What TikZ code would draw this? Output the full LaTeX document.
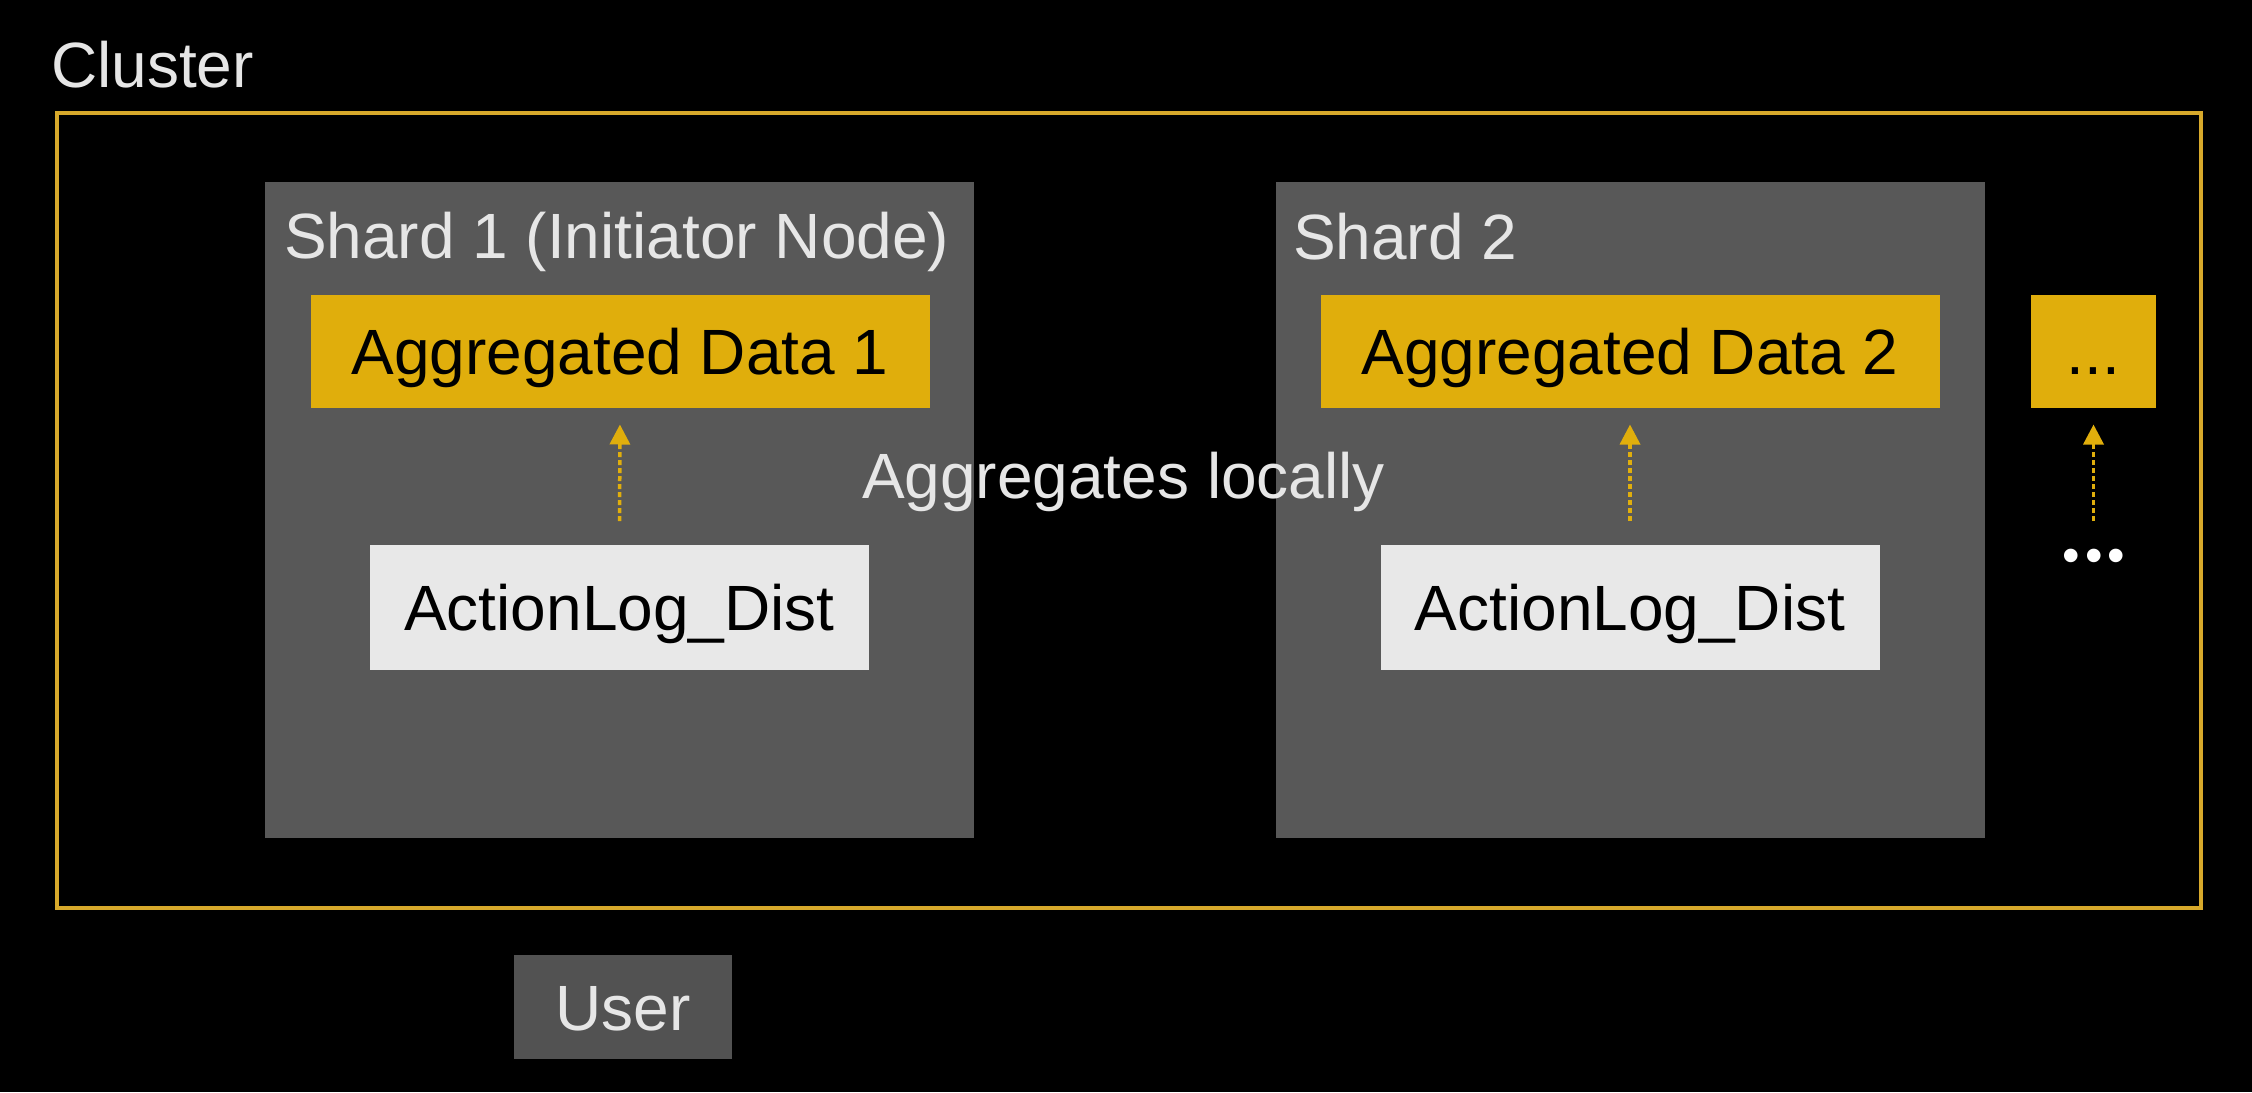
\documentclass[tikz,border=0pt]{standalone}
\usepackage{fontspec}
\setmainfont{Liberation Sans}
\usetikzlibrary{arrows.meta}
\definecolor{gold}{HTML}{E0AE0C}
\definecolor{goldline}{HTML}{D7A92B}
\definecolor{sharde}{HTML}{585858}
\definecolor{userbg}{HTML}{525252}
\definecolor{lightbox}{HTML}{E8E8E8}
\definecolor{lighttxt}{HTML}{E6E6E6}
\tikzset{
  px/.style={x=0.5pt,y=-0.5pt},
  bigfont/.style={font=\fontsize{32pt}{38pt}\selectfont},
  plainbox/.style={inner sep=0pt, outer sep=0pt, text height=23pt, text depth=0pt, bigfont, align=center},
  goldbox/.style={plainbox, fill=gold, text=black, minimum height=56.5pt},
  logbox/.style={plainbox, fill=lightbox, text=black, minimum width=249.5pt, minimum height=62.5pt},
  shardbox/.style={inner sep=0pt, outer sep=0pt, fill=sharde, minimum width=354.5pt, minimum height=328pt},
  lbl/.style={inner sep=0pt, outer sep=0pt, text=lighttxt, bigfont},
  flow/.style={draw=gold, line width=1.75pt, dash pattern=on 2.5pt off 1.5pt, -{Triangle[length=10pt,width=10pt]}, shorten >=8.5pt}
}
\begin{document}
\begin{tikzpicture}[px]
\useasboundingbox (0,0) rectangle (2252,1092);
\fill[black] (0,0) rectangle (2252,1092);

\node[lbl, anchor=base west] (clusterlbl) at (51,87) {Cluster};
\node[draw=goldline, line width=2pt, inner sep=0pt, outer sep=0pt, minimum width=1072pt, minimum height=397.5pt] (cluster) at (1129,510.5) {};

\node[shardbox] (shard1) at (619.5,510) {};
\node[shardbox] (shard2) at (1630.5,510) {};

\node[lbl, anchor=base west] (s1lbl) at (284,258) {Shard 1 (Initiator Node)};
\node[lbl, anchor=base west] (s2lbl) at (1293,259) {Shard 2};

\node[goldbox, minimum width=309.5pt] (ad1) at (620,351) {Aggregated Data 1};
\node[goldbox, minimum width=309.5pt] (ad2) at (1630,351) {Aggregated Data 2};
\node[goldbox, minimum width=62.5pt] (adn) at (2093.5,351) {...};

\node[logbox] (al1) at (619.5,607.5) {ActionLog\_Dist};
\node[logbox] (al2) at (1630,607.5) {ActionLog\_Dist};

\coordinate (c3) at (2093.5,521);
\node[lbl, anchor=base, text=white, font=\fontsize{25pt}{30pt}\selectfont] (moredots) at (2094,572) {•\kern2.6pt•\kern2.6pt•};

\draw[flow, shorten <=12pt] (al1.north) -- (ad1.south);
\draw[flow, shorten <=12pt] (al2.north) -- (ad2.south);
\draw[flow] (c3) -- (adn.south);

\node[lbl, anchor=base west] (agglbl) at (862,498) {Aggregates locally};

\node[plainbox, fill=userbg, text=lighttxt, minimum width=109pt, minimum height=52pt] (user) at (623,1007) {User};
\end{tikzpicture}
\end{document}
